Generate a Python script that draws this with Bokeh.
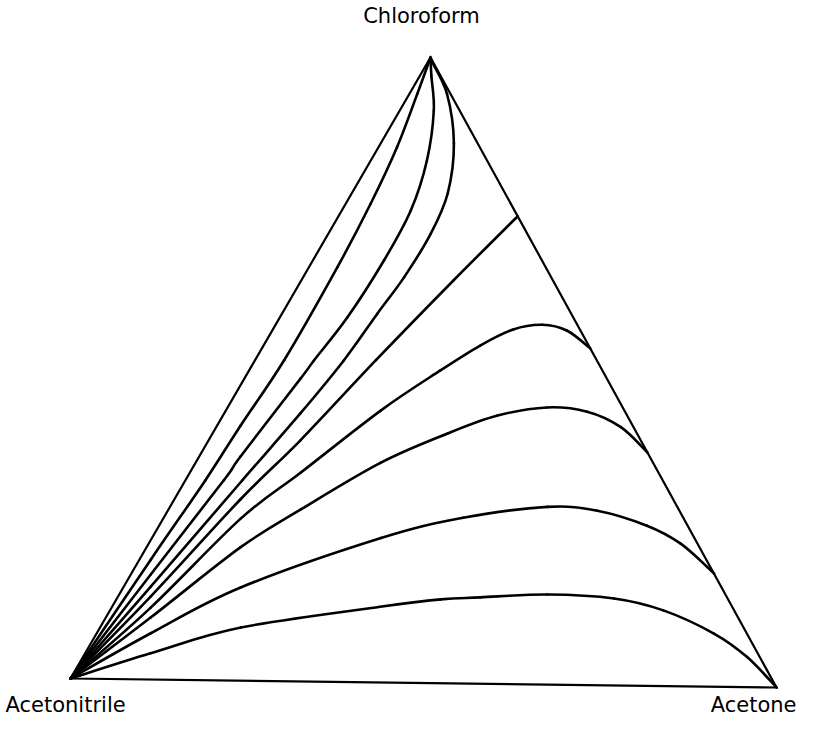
from bokeh.plotting import figure
from bokeh.models import Range1d
from bokeh.core.properties import value
from bokeh.embed import file_html
from bokeh.resources import INLINE

# Ternary diagram: Acetonitrile (bottom-left), Acetone (bottom-right), Chloroform (top)
components = ["Acetonitrile", "Acetone", "Chloroform"]

# Residue curves, compositions in % (acetone, chloroform); acetonitrile = 100 - both
c1_acetone = [0, 1.6, 2.8, 3.3, 4.1, 4.0, 3.5, 2.6, 1.1, 0]
c1_chloroform = [0, 19.2, 31.9, 40.8, 51.3, 66.3, 76.5, 85.6, 94.2, 100]

c2_acetone = [0, 2.8, 5.4, 5.8, 7.9, 8.3, 9.5, 10.0, 9.7, 7.9, 4.8, 1.6, 0]
c2_chloroform = [0, 16.8, 32.0, 35.8, 48.4, 51.3, 58.3, 67.5, 75.5, 83.5, 91.5, 97.1, 100]

c3_acetone = [0, 3.8, 8.0, 10.7, 12.5, 13.4, 14.2, 14.4, 13.5, 10.3, 5.3, 0.6, 0]
c3_chloroform = [0, 14.9, 32.0, 42.8, 51.4, 58.9, 64.8, 71.8, 78.3, 86.3, 94.2, 99.3, 100]

c4_acetone = [0, 4.6, 9.3, 12.9, 17.0, 21.4, 25.2]
c4_chloroform = [0, 13.3, 29.0, 38.5, 51.5, 64.4, 74.8]

c5_acetone = [0, 5.5, 10.9, 15.6, 21.8, 26.9, 30.5, 33.8, 37.5, 41.5, 46.2]
c5_chloroform = [0, 11.5, 25.9, 33.4, 43.5, 50.0, 54.1, 56.7, 57.5, 56.6, 53.8]

c6_acetone = [0, 6.3, 13.2, 18.6, 26.0, 33.0, 38.6, 44.9, 50.9, 56.9, 62.7]
c6_chloroform = [0, 9.9, 21.3, 27.5, 35.1, 39.9, 42.9, 44.3, 43.7, 41.3, 37.3]

c7_acetone = [0, 7.6, 16.5, 32.2, 42.1, 53.1, 60.4, 68.6, 74.8, 81.2, 81.9]
c7_chloroform = [0, 7.4, 14.9, 23.1, 26.5, 28.4, 27.9, 25.6, 22.8, 18.6, 18.1]

c8_acetone = [0, 9.2, 19.8, 37.7, 45.6, 51.0, 60.2, 69.9, 77.8, 86.8, 93.4, 100]
c8_chloroform = [0, 4.2, 8.5, 12.1, 13.4, 13.8, 14.4, 13.9, 12.1, 8.5, 4.8, 0]

curves = [
    (c1_acetone, c1_chloroform),
    (c2_acetone, c2_chloroform),
    (c3_acetone, c3_chloroform),
    (c4_acetone, c4_chloroform),
    (c5_acetone, c5_chloroform),
    (c6_acetone, c6_chloroform),
    (c7_acetone, c7_chloroform),
    (c8_acetone, c8_chloroform),
]

# triangle geometry (plot coordinates, y downwards)
V_A = (70.0, 678.0)   # acetonitrile
V_B = (776.0, 687.0)  # acetone
V_C = (430.0, 57.0)   # chloroform


def to_xy(acetone, chloroform):
    xs, ys = [], []
    for b, c in zip(acetone, chloroform):
        b, c = b / 100.0, c / 100.0
        a = 1.0 - b - c
        xs.append(a * V_A[0] + b * V_B[0] + c * V_C[0])
        ys.append(a * V_A[1] + b * V_B[1] + c * V_C[1])
    return xs, ys


def smooth_segments(xs, ys):
    """Catmull-Rom style smooth drawing through the read points, as cubic Bezier segments."""
    n = len(xs)
    seg = dict(x0=[], y0=[], x1=[], y1=[], cx0=[], cy0=[], cx1=[], cy1=[])
    for i in range(n - 1):
        p0 = (xs[max(i - 1, 0)], ys[max(i - 1, 0)])
        p1 = (xs[i], ys[i])
        p2 = (xs[i + 1], ys[i + 1])
        p3 = (xs[min(i + 2, n - 1)], ys[min(i + 2, n - 1)])
        seg["x0"].append(p1[0]); seg["y0"].append(p1[1])
        seg["x1"].append(p2[0]); seg["y1"].append(p2[1])
        seg["cx0"].append(p1[0] + (p2[0] - p0[0]) / 6.0)
        seg["cy0"].append(p1[1] + (p2[1] - p0[1]) / 6.0)
        seg["cx1"].append(p2[0] - (p3[0] - p1[0]) / 6.0)
        seg["cy1"].append(p2[1] - (p3[1] - p1[1]) / 6.0)
    return seg


p = figure(width=798, height=719, output_backend="svg", toolbar_location=None,
           x_range=Range1d(0, 798), y_range=Range1d(719, 0),
           min_border=0, outline_line_color=None)
p.axis.visible = False
p.grid.visible = False
p.background_fill_color = "white"
p.border_fill_color = "white"

# triangle sides
tx, ty = to_xy([0, 100, 0, 0], [0, 0, 100, 0])
p.line(tx, ty, line_color="black", line_width=2.2, line_join="miter")

for acet, chlo in curves:
    x, y = to_xy(acet, chlo)
    s = smooth_segments(x, y)
    p.bezier(x0=s["x0"], y0=s["y0"], x1=s["x1"], y1=s["y1"],
             cx0=s["cx0"], cy0=s["cy0"], cx1=s["cx1"], cy1=s["cy1"],
             line_color="black", line_width=2.6, line_cap="round")

font = value("DejaVu Sans")
p.text(x=[V_C[0] - 9], y=[V_C[1] - 30], text=[components[2]], text_font=font,
       text_font_size="21px", text_align="center", text_baseline="bottom", text_color="black")
p.text(x=[5], y=[716], text=[components[0]], text_font=font,
       text_font_size="21px", text_align="left", text_baseline="bottom", text_color="black")
p.text(x=[796], y=[716], text=[components[1]], text_font=font,
       text_font_size="21px", text_align="right", text_baseline="bottom", text_color="black")

open("out.html", "w").write(file_html(p, INLINE))
